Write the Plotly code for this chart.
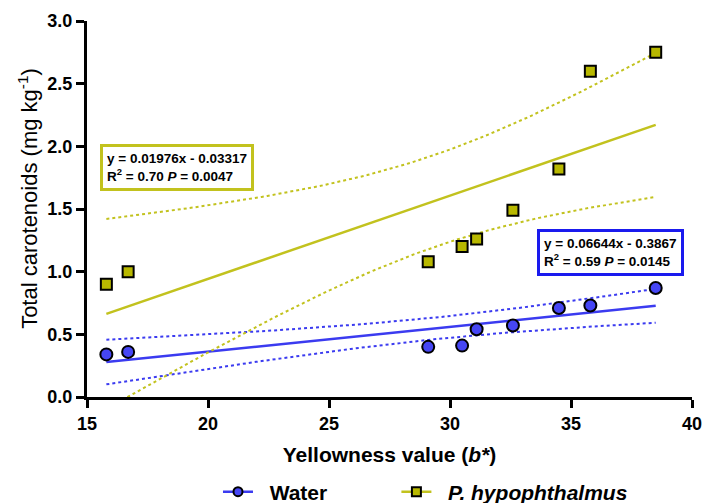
import numpy as np
import plotly.graph_objects as go

# ---- data ----
yellowness = [15.8, 16.7, 29.1, 30.5, 31.1, 32.6, 34.5, 35.8, 38.5]
water = [0.34, 0.36, 0.40, 0.41, 0.54, 0.57, 0.71, 0.73, 0.87]
fish = [0.90, 1.00, 1.08, 1.20, 1.26, 1.49, 1.82, 2.60, 2.75]
x_ticks = [15, 20, 25, 30, 35, 40]
y_ticks = [0.0, 0.5, 1.0, 1.5, 2.0, 2.5, 3.0]
eq_fish = "y = 0.01976x - 0.03317<br>R<sup>2</sup> = 0.70 <i>P</i> = 0.0047"
eq_water = "y = 0.06644x - 0.3867<br>R<sup>2</sup> = 0.59 <i>P</i> = 0.0145"

BLUE_FILL = "#4646f5"
BLUE_LINE = "#3b3bf0"
YEL_FILL = "#b8b800"
YEL_LINE = "#c2c21e"

def fit(x, y, t=2.365):
    x = np.asarray(x, float); y = np.asarray(y, float)
    n = len(x)
    b, a = np.polyfit(x, y, 1)
    res = y - (a + b * x)
    s = np.sqrt(np.sum(res ** 2) / (n - 2))
    xm = x.mean(); sxx = np.sum((x - xm) ** 2)
    xs = np.linspace(x.min(), x.max(), 100)
    yh = a + b * xs
    se = s * np.sqrt(1 / n + (xs - xm) ** 2 / sxx)
    return xs, yh, yh - t * se, yh + t * se

FAM = "Liberation Sans, Arial, sans-serif"
bold = dict(family=FAM, color="black", weight="bold")
regular = dict(family=FAM, color="black")

fig = go.Figure()

for yv, lc in [(water, BLUE_LINE), (fish, YEL_LINE)]:
    xs, yh, lo, hi = fit(yellowness, yv)
    fig.add_trace(go.Scatter(x=xs, y=yh, mode="lines", line=dict(color=lc, width=2.5),
                             showlegend=False, hoverinfo="skip"))
    for band in (lo, hi):
        fig.add_trace(go.Scatter(x=xs, y=band, mode="lines",
                                 line=dict(color=lc, width=2, dash="dot"),
                                 showlegend=False, hoverinfo="skip"))

fig.add_trace(go.Scatter(x=yellowness, y=fish, mode="markers", showlegend=False,
                         marker=dict(symbol="square", size=11, color=YEL_FILL,
                                     line=dict(color="black", width=2))))
fig.add_trace(go.Scatter(x=yellowness, y=water, mode="markers", showlegend=False,
                         marker=dict(symbol="circle", size=12, color=BLUE_FILL,
                                     line=dict(color="black", width=2))))

# legend entries (line + marker)
fig.add_trace(go.Scatter(x=[None], y=[None], mode="lines+markers",
                         name="\u00a0\u00a0Water" + "\u00a0" * 11,
                         line=dict(color=BLUE_LINE, width=2.5),
                         marker=dict(symbol="circle", size=9, color=BLUE_FILL,
                                     line=dict(color="black", width=2))))
fig.add_trace(go.Scatter(x=[None], y=[None], mode="lines+markers",
                         name="\u00a0\u00a0<i>P. hypophthalmus</i>",
                         line=dict(color=YEL_LINE, width=2.5),
                         marker=dict(symbol="square", size=9, color=YEL_FILL,
                                     line=dict(color="black", width=2))))

fig.add_annotation(x=15.537, y=2.019, xref="x", yref="y", xanchor="left", yanchor="top",
                   text=eq_fish, showarrow=False, align="left",
                   bordercolor=YEL_LINE, borderwidth=3, borderpad=4, bgcolor="white",
                   font=dict(size=13.5, **bold))
fig.add_annotation(x=33.595, y=1.340, xref="x", yref="y", xanchor="left", yanchor="top",
                   text=eq_water, showarrow=False, align="left",
                   bordercolor="#1a1aee", borderwidth=3, borderpad=4, bgcolor="white",
                   font=dict(size=13.5, **bold))

# y-axis title (placed as rotated text)
fig.add_annotation(x=-0.0975, y=0.527, xref="paper", yref="paper", xanchor="center",
                   yanchor="middle", textangle=-90, showarrow=False,
                   text="Total carotenoids (mg kg<sup>-1</sup>)", font=dict(size=22, **regular))

axis_common = dict(showgrid=False, zeroline=False, showline=True, linecolor="black",
                   linewidth=3, ticks="outside", ticklen=8, tickwidth=3, tickcolor="black",
                   tickfont=dict(size=18, **bold), automargin=False)

fig.update_xaxes(range=[15, 40], tickvals=x_ticks, ticktext=[str(v) for v in x_ticks],
                 title=dict(text="Yellowness value (<i>b*</i>)", font=dict(size=21, **bold),
                            standoff=15),
                 **axis_common)
fig.update_yaxes(range=[0, 3.0], tickvals=y_ticks, ticktext=[f"{v:.1f}" for v in y_ticks],
                 **axis_common)

fig.update_layout(
    width=705, height=503,
    margin=dict(l=87, r=13, t=21, b=106),
    plot_bgcolor="white", paper_bgcolor="white",
    font=regular,
    legend=dict(orientation="h", x=0.2165, xanchor="left", xref="paper",
                y=0.0219, yanchor="middle", yref="container",
                font=dict(size=21, **bold), traceorder="normal"),
)

fig.write_html("out.html", config={"displayModeBar": False},
               post_script="document.body.style.margin='0';")
